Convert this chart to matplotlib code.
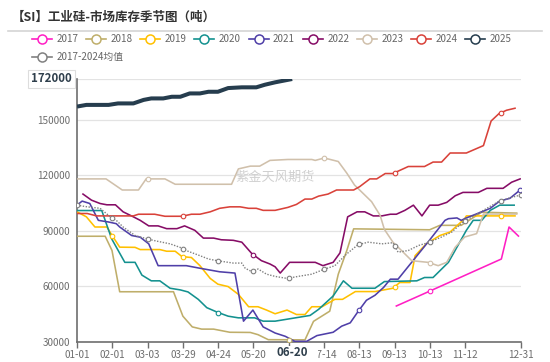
import numpy as np
import matplotlib
matplotlib.use("Agg")
import matplotlib.pyplot as plt
from matplotlib.lines import Line2D
from matplotlib.patches import Rectangle

plt.rcParams['font.family'] = ['Noto Sans CJK SC', 'DejaVu Sans']

# x is the week of the year (0 = 01-01, 52 = 12-31)
tick_labels = ['01-01', '02-01', '03-03', '03-29', '04-24', '05-20', '06-20',
               '07-14', '08-13', '09-13', '10-13', '11-12', '12-31']
tick_step = 4.134
tick_pos = [i * tick_step for i in range(12)] + [52]

w2017 = [37.4, 41.1, 49.7, 50.6, 51.7]
v2017 = [49300, 56900, 74700, 92000, 87100]

w2018 = [0, 3.3, 4.1, 5.0, 11.3, 12.4, 13.5, 14.6, 16.0, 17.9, 20.3, 21.2, 22.4, 26.7,
         27.7, 29.6, 30.6, 31.6, 32.4, 41.3, 42.5, 45.0, 47.4, 51.5]
v2018 = [87000, 87000, 79300, 57000, 57000, 43800, 38000, 36800, 36800, 35100, 35000,
         33800, 31100, 31000, 41000, 46500, 66500, 79300, 91000, 90500, 92900, 92900,
         100000, 99500]

w2019 = [0, 1.1, 2.1, 3.5, 4.06, 5.0, 6.8, 7.4, 9.7, 10.5, 11.5, 12.3, 13.4, 14.4, 15.6,
         16.5, 17.7, 18.9, 20.1, 21.2, 22.2, 23.2, 24.6, 25.7, 26.7, 27.5, 28.7, 30.2,
         31.1, 32.6, 34.9, 37.0, 37.8, 39.0, 39.6, 40.9, 42.5, 43.7, 45.4, 45.6, 51.3]
v2019 = [100200, 97500, 92000, 92000, 87800, 81100, 81000, 79800, 79800, 78900, 78900,
         76000, 75500, 71100, 64200, 61100, 59800, 55600, 48900, 48900, 47100, 45100,
         47100, 44700, 44700, 48900, 48900, 52900, 52900, 57100, 57100, 58900, 62000,
         62000, 76500, 82900, 87400, 89300, 96500, 98000, 98000]

w2020 = [0, 2.9, 3.3, 4.06, 5.6, 6.8, 7.6, 8.7, 9.7, 10.9, 12.1, 13.0, 14.2, 15.2, 16.4,
         17.7, 18.9, 20.8, 21.8, 23.2, 27.3, 28.3, 30.0, 31.2, 32.2, 34.9, 36.0, 39.8,
         40.7, 41.7, 43.5, 44.5, 45.6, 46.4, 47.4, 48.4, 49.5, 51.2]
v2020 = [100900, 100900, 95600, 85600, 72900, 72900, 66000, 62900, 62900, 58900, 58000,
         56900, 52900, 48400, 46000, 43800, 42900, 42900, 41100, 41100, 44200, 47500,
         54700, 62900, 58900, 58900, 62500, 62900, 64700, 64700, 72900, 81100, 90200,
         95600, 95600, 101000, 103800, 103800]

w2021 = [0, 0.6, 1.5, 2.5, 3.7, 4.6, 5.0, 6.4, 7.4, 8.4, 9.5, 12.8, 14.4, 16.7, 18.5,
         19.5, 20.6, 21.8, 23.2, 24.4, 25.5, 26.9, 28.1, 30.0, 31.0, 32.0, 32.9, 33.9,
         34.9, 35.9, 36.7, 37.6, 41.1, 43.1, 43.5, 44.5, 45.0, 45.6, 47.4, 48.4, 49.5,
         50.7, 51.9]
v2021 = [103800, 106000, 104700, 95600, 94700, 93800, 92000, 87400, 86500, 82900, 71100,
         71100, 69700, 67800, 67100, 41100, 47100, 38000, 34700, 32900, 30200, 30200,
         33300, 35100, 38400, 40200, 46200, 52400, 55100, 59300, 63800, 63800, 83800,
         95600, 96500, 96900, 95600, 96900, 100200, 102100, 106000, 107500, 112000]

w2022 = [0.7, 1.7, 2.7, 3.5, 4.5, 5.4, 6.6, 7.4, 8.4, 9.5, 10.5, 11.7, 12.6, 13.8, 14.8,
         16.0, 16.9, 18.3, 19.3, 20.5, 21.6, 22.6, 23.2, 23.8, 24.9, 27.9, 28.8, 30.0,
         30.8, 31.7, 32.8, 33.7, 34.7, 35.7, 36.7, 37.4, 38.4, 39.4, 40.4, 41.3, 42.3,
         43.3, 44.3, 45.2, 47.0, 48.0, 49.9, 50.9, 51.9]
v2022 = [109800, 106500, 104700, 104000, 104000, 100200, 97500, 95600, 92600, 92600,
         91100, 91100, 92600, 90200, 86000, 86000, 85100, 84800, 83800, 77500, 73800,
         72000, 70500, 67100, 72900, 72900, 71100, 72900, 78000, 97500, 100200, 100200,
         98000, 98000, 98900, 98900, 101000, 103800, 98000, 103800, 103800, 105300,
         108900, 110700, 110700, 112900, 112900, 116200, 118000]

w2023 = [0, 3.4, 5.3, 7.2, 8.1, 10.3, 11.5, 18.1, 18.9, 20.3, 21.4, 22.6, 24.7, 27.5,
         27.9, 28.8, 29.4, 30.6, 31.6, 32.5, 33.5, 34.5, 35.5, 36.0, 37.0, 38.0, 39.2,
         41.1, 42.3, 43.3, 44.3, 45.4, 46.8, 47.6, 51.5]
v2023 = [118000, 118000, 112000, 112000, 118000, 118000, 115100, 115100, 123400, 124900,
         124900, 128000, 128500, 128500, 128000, 129100, 128800, 127400, 121100, 114700,
         110200, 105700, 98300, 90700, 83800, 79300, 73800, 72900, 71100, 72900, 81100,
         86600, 88400, 99000, 99000]

w2024 = [0, 1.2, 2.3, 6.6, 7.2, 9.1, 10.3, 12.3, 13.4, 14.4, 15.6, 16.7, 17.9, 19.1,
         20.1, 21.0, 21.8, 23.2, 24.7, 25.7, 26.7, 27.5, 28.3, 29.4, 30.4, 32.4, 33.1,
         34.3, 35.1, 36.1, 37.0, 38.8, 40.7, 41.7, 42.7, 43.7, 45.6, 47.6, 48.5, 49.4,
         50.3, 51.3]
v2024 = [99300, 99300, 98000, 98000, 98900, 98900, 97800, 97800, 98900, 98900, 100200,
         102100, 102900, 102900, 102100, 102100, 101000, 101000, 102600, 104200, 107100,
         107100, 108700, 109800, 112000, 112000, 113800, 118000, 118000, 120900, 120900,
         124700, 124700, 127100, 127100, 132000, 132000, 136000, 149300, 153200, 155100,
         156200]

w2025 = [0, 1.1, 3.7, 4.8, 6.6, 7.8, 8.7, 10.1, 11.1, 12.1, 13.2, 14.4, 15.4, 16.5,
         17.7, 19.3, 21.0, 22.0, 23.2, 25.2]
v2025 = [157100, 158000, 158000, 158800, 158800, 160700, 161500, 161500, 162400, 162400,
         164200, 164200, 165100, 165100, 167100, 167500, 167500, 168900, 170200, 172000]

w_avg = [0, 1.2, 2.7, 3.9, 4.6, 5.4, 6.8, 8.2, 9.3, 10.9, 12.3, 13.0, 14.4, 15.4, 16.4,
         18.3, 19.3, 19.7, 20.5, 21.2, 22.2, 23.2, 24.6, 25.9, 27.5, 28.8, 30.2, 31.6,
         32.9, 34.1, 35.7, 37.0, 37.6, 38.8, 40.0, 41.1, 42.7, 43.9, 45.2, 46.6, 48.0,
         49.3, 50.7, 52.0]
v_avg = [103800, 102900, 102100, 97500, 95600, 92000, 87400, 85600, 84400, 82900, 80600,
         78900, 76500, 74700, 73800, 72500, 72500, 69700, 67800, 69300, 66500, 65300,
         64200, 65300, 66500, 68900, 71100, 77500, 82400, 83800, 82900, 83500, 78400,
         79300, 82000, 83500, 86600, 89300, 94700, 98300, 102100, 105600, 107800, 109300]

series = [
    ('2017', w2017, v2017, '#ff1fc4', [10]),
    ('2018', w2018, v2018, '#bfae6a', [6]),
    ('2019', w2019, v2019, '#ffc000', [1, 3, 9, 12]),
    ('2020', w2020, v2020, '#13918f', [4]),
    ('2021', w2021, v2021, '#4f3fa8', [8, 'end']),
    ('2022', w2022, v2022, '#860c66', [5]),
    ('2023', w2023, v2023, '#d0c0ab', [2, 7, 10]),
    ('2024', w2024, v2024, '#d9423a', [3, 9, 12]),
    ('2025', w2025, v2025, '#263d4e', []),
    ('2017-2024均值', w_avg, v_avg, '#808080', list(range(13)) + ['end']),
]

W, H = 550, 362
fig = plt.figure(figsize=(5.5, 3.62), dpi=100)
ax = fig.add_axes([77 / W, 1 - 341.7 / H, 444 / W, (341.7 - 79) / H])

def fx(px):
    return px / W

def fy(py):
    return 1 - py / H

for name, w, v, c, marks in series:
    if name == '2025':
        ax.plot(w, v, color=c, lw=2.9, zorder=4, solid_capstyle='butt')
    elif name.endswith('均值'):
        ax.plot(w, v, color=c, lw=1.0, ls=(0, (1, 1.1)), zorder=4)
    else:
        ax.plot(w, v, color=c, lw=1.15, zorder=3)
    mx, my = [], []
    for m in marks:
        if m == 'end':
            mx.append(w[-1]); my.append(v[-1])
        else:
            x = m * tick_step
            if w[0] <= x <= w[-1]:
                mx.append(x); my.append(np.interp(x, w, v))
    if mx:
        ax.plot(mx, my, ls='none', marker='o', ms=3.3, mfc='white', mec=c, mew=0.8, zorder=5)

ax.set_xlim(0, 52)
ax.set_ylim(30000, 172000)
ax.set_yticks([30000, 60000, 90000, 120000, 150000, 172000])
ax.set_yticklabels(['30000', '60000', '90000', '120000', '150000', ''])
ax.set_xticks(tick_pos)
ax.set_xticklabels([t if t != '06-20' else '' for t in tick_labels])
ax.tick_params(axis='y', length=0, pad=5, labelsize=7.2, labelcolor='#6e6e6e')
ax.tick_params(axis='x', length=4, width=1, color='#6e6e6e', pad=2,
               labelsize=7.2, labelcolor='#6e6e6e')
ax.grid(axis='y', color='#e3e3e3', lw=0.9)
ax.set_axisbelow(True)
for s in ['top', 'right']:
    ax.spines[s].set_visible(False)
for s in ['left', 'bottom']:
    ax.spines[s].set_color('#6e6e6e')
    ax.spines[s].set_linewidth(1.2)

# highlighted pointer labels (the 06-20 box hides part of the next label)
fig.add_artist(Rectangle((fx(270), fy(361)), (318 - 270) / W, 15 / H,
                         transform=fig.transFigure, fc='white', ec='none', zorder=9))
fig.text(fx(292), fy(353), '06-20', ha='center', va='center', fontsize=8.3,
         fontweight='bold', color='#2f3f4c', zorder=10)
ax.text(-0.012, 172000, '172000', transform=ax.get_yaxis_transform(),
        ha='right', va='center', fontsize=8.3, fontweight='bold', color='#2f3f4c',
        zorder=10, clip_on=False,
        bbox=dict(boxstyle='square,pad=0.25', fc='white', ec='#dddddd', lw=0.8))

# watermark
fig.text(fx(275), fy(177), '紫金天风期货', ha='center', va='center',
         fontsize=9.5, color='#d0d0d0', zorder=0)

# title and separator
fig.text(fx(12), fy(17), '【SI】工业硅-市场库存季节图（吨）', ha='left', va='center',
         fontsize=9, fontweight='bold', color='#333333')
fig.add_artist(Line2D([fx(8), fx(542)], [fy(31), fy(31)], color='#d4d4d4', lw=1.2))

# legend
for i, (name, w, v, c, marks) in enumerate(series):
    if i < 9:
        x0, yy = 31.7 + i * 54.2, 39.3
    else:
        x0, yy = 31.7, 57.3
    fig.add_artist(Line2D([fx(x0), fx(x0 + 20)], [fy(yy), fy(yy)], color=c, lw=1.2))
    fig.add_artist(Line2D([fx(x0 + 10)], [fy(yy)], ls='none', marker='o', ms=6.5,
                          mfc='white', mec=c, mew=1.1))
    fig.text(fx(x0 + 24.5), fy(yy), name, ha='left', va='center',
             fontsize=7.1, color='#666666')

fig.savefig('out.png', dpi=100)
